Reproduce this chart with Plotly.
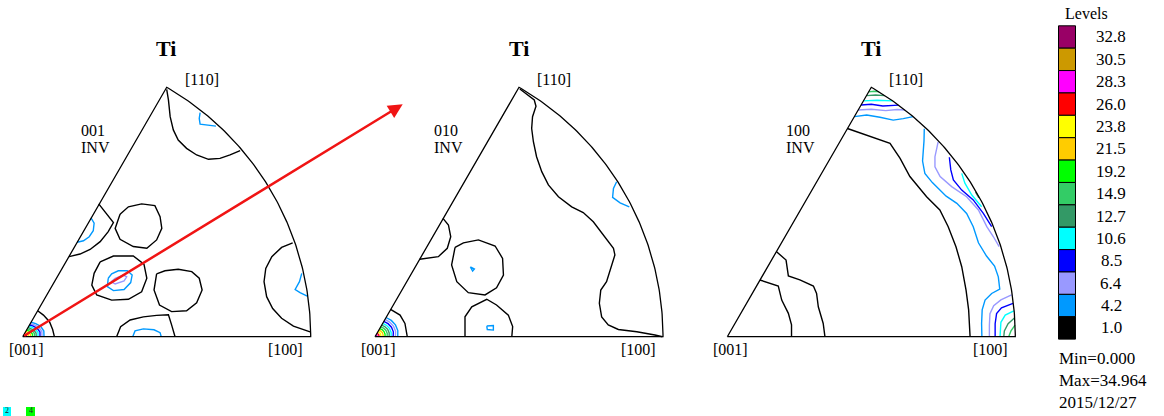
import numpy as np
import plotly.graph_objects as go

W, H = 1164, 416

# ---- contour levels (inverse pole figure densities) ----
levels = [1.0, 4.2, 6.4, 8.5, 10.6, 12.7, 14.9, 19.2, 21.5, 23.8, 26.0, 28.3, 30.5, 32.8]
level_labels = ["1.0", "4.2", "6.4", "8.5", "10.6", "12.7", "14.9", "19.2",
                "21.5", "23.8", "26.0", "28.3", "30.5", "32.8"]
level_colors = ["#000000", "#0099FF", "#9999FF", "#0000FF", "#00FFFF", "#339966",
                "#33CC66", "#00FF00", "#FFCC00", "#FFFF00", "#FF0000", "#FF00FF",
                "#CC9900", "#990066"]
min_density = 0.000
max_density = 34.964
plot_date = "2015/12/27"

panel_titles = ["Ti", "Ti", "Ti"]
panel_directions = ["001", "010", "100"]
corner_labels = ["[001]", "[100]", "[110]"]

# ---- contour lines, (u, v) in units of the stereographic sector radius ----
# panel 1 : 001 INV
p1_c110 = [(0.500, 0.859), (0.506, 0.822), (0.512, 0.764), (0.523, 0.718), (0.540, 0.683),
           (0.569, 0.654), (0.604, 0.631), (0.645, 0.616), (0.685, 0.619), (0.720, 0.631),
           (0.755, 0.646)]
p1_c110_in = [(0.616, 0.778), (0.613, 0.758), (0.616, 0.738), (0.639, 0.734), (0.671, 0.731)]
p1_edge = [(0.264, 0.461), (0.289, 0.428), (0.315, 0.396), (0.297, 0.365), (0.269, 0.330),
           (0.234, 0.303), (0.199, 0.287), (0.161, 0.278)]
p1_edge_in = [(0.237, 0.413), (0.248, 0.394), (0.245, 0.368), (0.231, 0.347), (0.211, 0.333),
              (0.189, 0.328)]
p1_ring_a = [(0.338, 0.425), (0.367, 0.451), (0.413, 0.461), (0.459, 0.455), (0.477, 0.417),
             (0.483, 0.376), (0.465, 0.336), (0.431, 0.307), (0.384, 0.313), (0.338, 0.338),
             (0.321, 0.376), (0.338, 0.425)]
p1_ring_b = [(0.269, 0.260), (0.315, 0.280), (0.384, 0.280), (0.421, 0.252), (0.431, 0.203),
             (0.413, 0.156), (0.367, 0.130), (0.309, 0.127), (0.257, 0.145), (0.240, 0.179),
             (0.248, 0.220), (0.269, 0.260)]
p1_ring_b_4 = [(0.297, 0.203), (0.294, 0.174), (0.315, 0.160), (0.352, 0.164), (0.375, 0.188),
               (0.380, 0.214), (0.363, 0.229), (0.332, 0.229), (0.309, 0.218), (0.297, 0.203)]
p1_ring_b_6 = [(0.307, 0.191), (0.321, 0.183), (0.352, 0.194), (0.361, 0.208), (0.350, 0.214),
               (0.321, 0.203), (0.307, 0.191)]
p1_ring_c = [(0.465, 0.218), (0.456, 0.162), (0.475, 0.110), (0.517, 0.087), (0.569, 0.090),
             (0.604, 0.118), (0.623, 0.162), (0.613, 0.203), (0.587, 0.226), (0.540, 0.234),
             (0.494, 0.229), (0.465, 0.218)]
p1_base = [(0.326, 0.0), (0.340, 0.035), (0.373, 0.058), (0.419, 0.069), (0.465, 0.074),
           (0.506, 0.076), (0.517, 0.041), (0.529, 0.0)]
p1_base_in = [(0.382, 0.0), (0.390, 0.020), (0.419, 0.027), (0.456, 0.024), (0.477, 0.014),
              (0.481, 0.0)]
p1_c100 = [(0.9375, 0.326), (0.899, 0.310), (0.865, 0.278), (0.844, 0.237), (0.838, 0.191),
           (0.847, 0.139), (0.868, 0.098), (0.899, 0.064), (0.940, 0.037), (0.998, 0.017)]
p1_c100_in = [(0.969, 0.220), (0.961, 0.191), (0.946, 0.164), (0.963, 0.153), (0.988, 0.141)]
p1_c001 = [(0.052, 0.090), (0.072, 0.075), (0.093, 0.052), (0.104, 0.025), (0.110, 0.0)]

# panel 2 : 010 INV
p2_long = [(0.503, 0.860), (0.530, 0.840), (0.553, 0.822), (0.559, 0.800), (0.547, 0.764),
           (0.544, 0.723), (0.550, 0.677), (0.561, 0.625), (0.579, 0.573), (0.602, 0.527),
           (0.637, 0.486), (0.683, 0.451), (0.723, 0.431), (0.758, 0.399), (0.793, 0.353),
           (0.828, 0.307), (0.833, 0.284), (0.818, 0.237), (0.804, 0.191), (0.784, 0.162),
           (0.779, 0.116), (0.787, 0.069), (0.810, 0.041), (0.845, 0.025), (0.909, 0.017),
           (0.972, 0.006), (0.998, 0.0)]
p2_arc_spot = [(0.839, 0.538), (0.828, 0.515), (0.825, 0.484), (0.851, 0.465), (0.883, 0.451)]
p2_edge = [(0.236, 0.411), (0.255, 0.388), (0.263, 0.347), (0.251, 0.307), (0.220, 0.278),
           (0.155, 0.269)]
p2_ring = [(0.278, 0.310), (0.266, 0.249), (0.284, 0.191), (0.324, 0.153), (0.382, 0.145),
           (0.422, 0.170), (0.446, 0.214), (0.443, 0.272), (0.417, 0.315), (0.359, 0.336),
           (0.307, 0.326), (0.278, 0.310)]
p2_ring_dot = [(0.331, 0.242), (0.345, 0.235), (0.339, 0.228), (0.331, 0.242)]
p2_base = [(0.3125, 0.0), (0.3125, 0.069), (0.336, 0.104), (0.388, 0.130), (0.422, 0.110),
           (0.463, 0.075), (0.478, 0.035), (0.475, 0.0)]
p2_base_dot = [(0.388, 0.037), (0.411, 0.039), (0.411, 0.023), (0.390, 0.025), (0.388, 0.037)]
p2_c001 = [(0.054, 0.095), (0.087, 0.075), (0.104, 0.046), (0.112, 0.0)]

# panel 3 : 100 INV
p3_long = [(0.417, 0.723), (0.461, 0.708), (0.519, 0.689), (0.565, 0.671), (0.600, 0.619),
           (0.634, 0.556), (0.692, 0.486), (0.738, 0.440), (0.767, 0.382), (0.794, 0.3125),
           (0.814, 0.243), (0.829, 0.162), (0.838, 0.093), (0.843, 0.0)]
p3_low_a = [(0.171, 0.295), (0.204, 0.266), (0.212, 0.211), (0.252, 0.197), (0.299, 0.176),
            (0.310, 0.150), (0.316, 0.104), (0.333, 0.046), (0.339, 0.0)]
p3_low_b = [(0.113, 0.197), (0.142, 0.1875), (0.177, 0.176), (0.189, 0.127), (0.212, 0.081),
            (0.223, 0.041), (0.223, 0.0)]
p3_top_4 = [(0.441, 0.764), (0.484, 0.770), (0.530, 0.762), (0.576, 0.752), (0.611, 0.757),
            (0.645, 0.764)]
p3_top_6 = [(0.454, 0.787), (0.500, 0.790), (0.550, 0.785), (0.590, 0.789), (0.617, 0.787)]
p3_top_8 = [(0.4645, 0.8045), (0.500, 0.807), (0.540, 0.801), (0.570, 0.804), (0.594, 0.804)]
p3_top_10 = [(0.473, 0.819), (0.520, 0.821), (0.574, 0.819)]
p3_top_12 = [(0.483, 0.837), (0.515, 0.839), (0.547, 0.837)]
p3_top_14 = [(0.491, 0.850), (0.510, 0.852), (0.527, 0.850)]
p3_arc_4 = [(0.684, 0.722), (0.683, 0.680), (0.678, 0.610), (0.686, 0.567), (0.712, 0.535),
            (0.760, 0.488), (0.797, 0.463), (0.831, 0.428), (0.854, 0.382), (0.872, 0.326),
            (0.900, 0.280), (0.928, 0.245), (0.941, 0.208), (0.946, 0.165), (0.918, 0.150),
            (0.895, 0.127), (0.885, 0.093), (0.883, 0.046), (0.884, 0.0)]
p3_arc_6 = [(0.732, 0.676), (0.721, 0.625), (0.721, 0.590), (0.739, 0.556), (0.779, 0.521),
            (0.831, 0.486), (0.872, 0.440), (0.901, 0.382), (0.924, 0.347), (0.944, 0.3125)]
p3_arc_8 = [(0.771, 0.623), (0.776, 0.579), (0.785, 0.544), (0.814, 0.509), (0.854, 0.475),
            (0.889, 0.428), (0.918, 0.382)]
p3_arc_10 = [(0.814, 0.567), (0.825, 0.533), (0.849, 0.492), (0.883, 0.451)]
p3_arc_12 = [(0.862, 0.502), (0.874, 0.482)]
p3_corner_6 = [(0.987, 0.145), (0.950, 0.128), (0.925, 0.108), (0.912, 0.080), (0.910, 0.040),
               (0.910, 0.0)]
p3_corner_8 = [(0.992, 0.116), (0.952, 0.100), (0.935, 0.080), (0.930, 0.045), (0.930, 0.0)]
p3_corner_10 = [(0.995, 0.090), (0.965, 0.075), (0.950, 0.050), (0.947, 0.020), (0.947, 0.0)]
p3_corner_12 = [(0.997, 0.065), (0.975, 0.045), (0.962, 0.020), (0.960, 0.0)]
p3_corner_14 = [(0.999, 0.040), (0.985, 0.020), (0.977, 0.0)]

# peaks at [001]: contour radius read at these polar angles (degrees)
peak_angles = [0, 15, 30, 45, 60]
p1_peak_levels = [4.2, 6.4, 8.5, 10.6, 12.7, 14.9, 19.2, 21.5, 23.8, 26.0]
p1_peak_radii = [
    [0.074, 0.076, 0.072, 0.064, 0.058],
    [0.067, 0.069, 0.065, 0.058, 0.052],
    [0.060, 0.062, 0.058, 0.052, 0.047],
    [0.053, 0.055, 0.051, 0.046, 0.042],
    [0.047, 0.048, 0.045, 0.040, 0.037],
    [0.041, 0.042, 0.039, 0.035, 0.032],
    [0.034, 0.035, 0.032, 0.029, 0.027],
    [0.027, 0.028, 0.026, 0.023, 0.021],
    [0.020, 0.021, 0.020, 0.018, 0.016],
    [0.013, 0.014, 0.013, 0.012, 0.010],
]
p2_peak_levels = [4.2, 6.4, 8.5, 10.6, 12.7, 14.9, 19.2, 21.5, 23.8, 26.0, 28.3]
p2_peak_radii = [
    [0.079, 0.082, 0.082, 0.080, 0.077],
    [0.071, 0.074, 0.074, 0.072, 0.069],
    [0.063, 0.066, 0.066, 0.064, 0.061],
    [0.056, 0.058, 0.058, 0.056, 0.053],
    [0.049, 0.051, 0.051, 0.049, 0.046],
    [0.042, 0.044, 0.044, 0.042, 0.039],
    [0.035, 0.036, 0.036, 0.035, 0.032],
    [0.028, 0.029, 0.029, 0.028, 0.025],
    [0.021, 0.022, 0.022, 0.021, 0.019],
    [0.014, 0.015, 0.015, 0.014, 0.012],
    [0.007, 0.008, 0.008, 0.007, 0.006],
]

panel_contours = [
    [(1.0, p1_c110), (4.2, p1_c110_in), (1.0, p1_edge), (4.2, p1_edge_in), (1.0, p1_ring_a),
     (1.0, p1_ring_b), (4.2, p1_ring_b_4), (6.4, p1_ring_b_6), (1.0, p1_ring_c),
     (1.0, p1_base), (4.2, p1_base_in), (1.0, p1_c100), (4.2, p1_c100_in), (1.0, p1_c001)],
    [(1.0, p2_long), (4.2, p2_arc_spot), (1.0, p2_edge), (1.0, p2_ring), (4.2, p2_ring_dot),
     (1.0, p2_base), (4.2, p2_base_dot), (1.0, p2_c001)],
    [(1.0, p3_long), (1.0, p3_low_a), (1.0, p3_low_b), (4.2, p3_top_4), (6.4, p3_top_6),
     (8.5, p3_top_8), (10.6, p3_top_10), (12.7, p3_top_12), (14.9, p3_top_14),
     (4.2, p3_arc_4), (6.4, p3_arc_6), (8.5, p3_arc_8), (10.6, p3_arc_10), (12.7, p3_arc_12),
     (6.4, p3_corner_6), (8.5, p3_corner_8), (10.6, p3_corner_10), (12.7, p3_corner_12),
     (14.9, p3_corner_14)],
]
panel_peaks = [(p1_peak_levels, p1_peak_radii), (p2_peak_levels, p2_peak_radii), ([], [])]

# ---- layout geometry (pixels) ----
origins = [(22.7, 336.7), (375.0, 336.7), (727.3, 336.7)]   # [001] corner of each sector
RADIUS = 288.0
X_RANGE = (-0.06, 1.06)
Y_RANGE = (-0.07, 1.05)
color_of = dict(zip(levels, level_colors))


def paper_x(px):
    return px / W


def paper_y(py):
    return 1 - py / H


fig = go.Figure()
layout_axes = {}
annotations = []
shapes = []
serif = "Liberation Serif"

for k in range(3):
    ox, oy = origins[k]
    xa = "x" if k == 0 else f"x{k + 1}"
    ya = "y" if k == 0 else f"y{k + 1}"
    xdom = [paper_x(ox + X_RANGE[0] * RADIUS), paper_x(ox + X_RANGE[1] * RADIUS)]
    ydom = [paper_y(oy - Y_RANGE[0] * RADIUS), paper_y(oy - Y_RANGE[1] * RADIUS)]
    layout_axes["xaxis" if k == 0 else f"xaxis{k + 1}"] = dict(
        domain=xdom, range=list(X_RANGE), visible=False, fixedrange=True)
    layout_axes["yaxis" if k == 0 else f"yaxis{k + 1}"] = dict(
        domain=ydom, range=list(Y_RANGE), visible=False, fixedrange=True)

    # contour lines grouped by level
    by_level = {}
    for lvl, pts in panel_contours[k]:
        by_level.setdefault(lvl, []).append(pts)
    plev, prad = panel_peaks[k]
    th = np.radians(peak_angles)
    for lvl, radii in zip(plev, prad):
        r = np.array(radii)
        by_level.setdefault(lvl, []).append(list(zip(r * np.cos(th), r * np.sin(th))))
    for lvl in sorted(by_level):
        xs, ys = [], []
        for pts in by_level[lvl]:
            xs += [p[0] for p in pts] + [None]
            ys += [p[1] for p in pts] + [None]
        fig.add_trace(go.Scatter(x=xs, y=ys, xaxis=xa, yaxis=ya, mode="lines",
                                 line=dict(color=color_of[lvl], width=1.4),
                                 hoverinfo="skip", showlegend=False))

    # sector outline: [001] -> [110] along the edge, arc to [100], back to [001]
    arc = np.radians(np.linspace(60, 0, 121))
    fx = [0.0] + list(np.cos(arc)) + [0.0]
    fy = [0.0] + list(np.sin(arc)) + [0.0]
    fig.add_trace(go.Scatter(x=fx, y=fy, xaxis=xa, yaxis=ya, mode="lines",
                             line=dict(color="#000000", width=1.3),
                             hoverinfo="skip", showlegend=False))

    # texts
    annotations.append(dict(x=paper_x(ox + 143.5), y=paper_y(48), xref="paper", yref="paper",
                            text=f"<b>{panel_titles[k]}</b>", showarrow=False,
                            font=dict(family=serif, size=22, color="black"),
                            xanchor="center", yanchor="middle"))
    for lab, dx, dy in [(corner_labels[0], 3.5, 349), (corner_labels[1], 263, 349),
                        (corner_labels[2], 179, 79)]:
        annotations.append(dict(x=paper_x(ox + dx), y=paper_y(dy), xref="paper", yref="paper",
                                text=lab, showarrow=False,
                                font=dict(family=serif, size=16, color="black"),
                                xanchor="center", yanchor="middle"))
    annotations.append(dict(x=paper_x(ox + 56.5), y=paper_y(130), xref="paper", yref="paper",
                            text=panel_directions[k], showarrow=False,
                            font=dict(family=serif, size=16, color="black"),
                            xanchor="left", yanchor="middle"))
    annotations.append(dict(x=paper_x(ox + 56.5), y=paper_y(147), xref="paper", yref="paper",
                            text="INV", showarrow=False,
                            font=dict(family=serif, size=16, color="black"),
                            xanchor="left", yanchor="middle"))

# red arrow from the [001] corner of the first sector
tail = origins[0]
head = (402.7, 104.3)
annotations.append(dict(x=paper_x(head[0]), y=paper_y(head[1]), xref="paper", yref="paper",
                        ax=tail[0] - head[0], ay=tail[1] - head[1], axref="pixel", ayref="pixel",
                        text="", showarrow=True, arrowhead=2, arrowsize=1.15, arrowwidth=2.5,
                        arrowcolor="#F01414", standoff=0, startstandoff=0))

# level key
key_top, key_step = 25.8, 22.38
annotations.append(dict(x=paper_x(1086), y=paper_y(14), xref="paper", yref="paper",
                        text="Levels", showarrow=False,
                        font=dict(family=serif, size=16, color="black"),
                        xanchor="center", yanchor="middle"))
for i, (lab, col) in enumerate(zip(level_labels[::-1], level_colors[::-1])):
    y0 = key_top + i * key_step
    shapes.append(dict(type="rect", xref="paper", yref="paper",
                       x0=paper_x(1058.5), x1=paper_x(1075.5),
                       y0=paper_y(y0), y1=paper_y(y0 + key_step),
                       fillcolor=col, line=dict(color="#000000", width=1)))
    annotations.append(dict(x=paper_x(1111), y=paper_y(y0 + key_step / 2), xref="paper",
                            yref="paper", text=lab, showarrow=False,
                            font=dict(family=serif, size=17, color="black"),
                            xanchor="center", yanchor="middle"))
for txt, yy in [(f"Min={min_density:.3f}", 358), (f"Max={max_density:.3f}", 380),
                (plot_date, 402)]:
    annotations.append(dict(x=paper_x(1057), y=paper_y(yy), xref="paper", yref="paper",
                            text=txt, showarrow=False,
                            font=dict(family=serif, size=17, color="black"),
                            xanchor="left", yanchor="middle"))

# small colour chips at the lower-left edge
for (x0, x1, col, txt) in [(3, 11, "#00FFFF", "2"), (26, 35, "#00FF00", "4")]:
    shapes.append(dict(type="rect", xref="paper", yref="paper",
                       x0=paper_x(x0), x1=paper_x(x1), y0=paper_y(407), y1=paper_y(416),
                       fillcolor=col, line=dict(width=0)))
    annotations.append(dict(x=paper_x((x0 + x1) / 2), y=paper_y(410.5), xref="paper",
                            yref="paper", text=txt, showarrow=False,
                            font=dict(family=serif, size=8, color="#222222"),
                            xanchor="center", yanchor="middle", borderpad=0))

fig.update_layout(width=W, height=H, margin=dict(l=0, r=0, t=0, b=0),
                  paper_bgcolor="white", plot_bgcolor="rgba(0,0,0,0)",
                  annotations=annotations, shapes=shapes, **layout_axes)
fig.write_html("out.html")
